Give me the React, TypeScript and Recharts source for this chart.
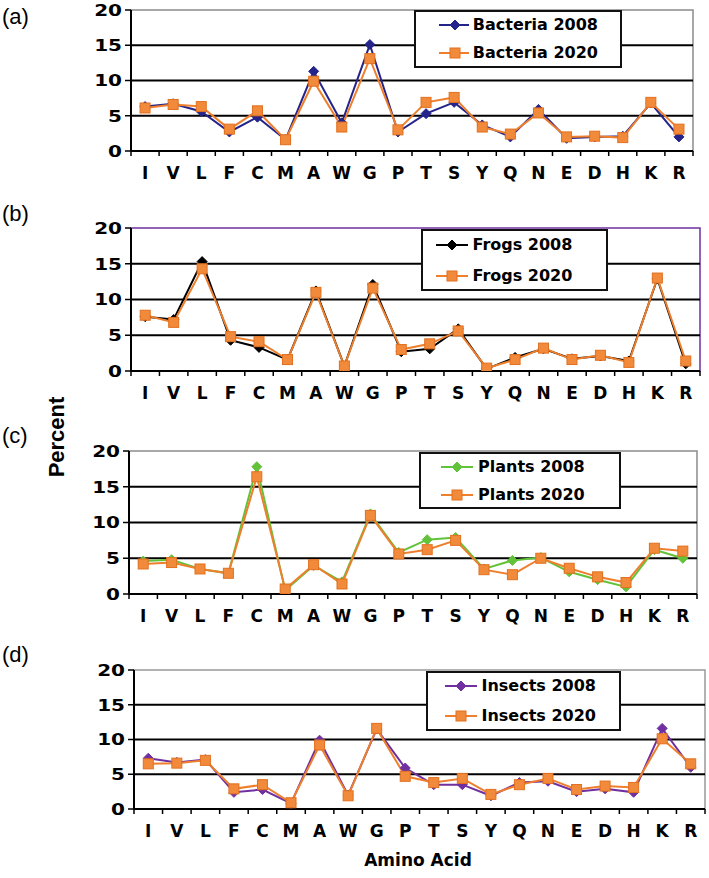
import React from 'react';
import { LineChart, Line, XAxis, YAxis, ReferenceLine, ReferenceArea, Legend } from 'recharts';

const AMINO_ACIDS = ['I', 'V', 'L', 'F', 'C', 'M', 'A', 'W', 'G', 'P', 'T', 'S', 'Y', 'Q', 'N', 'E', 'D', 'H', 'K', 'R'];
const Y_TICKS = [0, 5, 10, 15, 20];

const bacteria2008 = [6.3, 6.7, 5.6, 2.7, 4.8, 1.6, 11.3, 4.0, 15.1, 2.7, 5.3, 6.9, 3.7, 2.0, 5.9, 1.8, 2.0, 2.1, 6.8, 2.0];
const bacteria2020 = [6.1, 6.6, 6.3, 3.1, 5.7, 1.6, 9.9, 3.4, 13.1, 3.0, 6.9, 7.6, 3.4, 2.4, 5.4, 2.0, 2.1, 1.9, 6.9, 3.1];
const frogs2008 = [7.6, 7.2, 15.3, 4.3, 3.3, 1.6, 11.2, 0.7, 12.1, 2.7, 3.1, 5.9, 0.3, 1.9, 3.1, 1.7, 2.1, 1.4, 12.9, 1.0];
const frogs2020 = [7.8, 6.8, 14.3, 4.8, 4.1, 1.6, 11.0, 0.7, 11.6, 3.0, 3.8, 5.6, 0.4, 1.6, 3.2, 1.6, 2.2, 1.2, 13.0, 1.4];
const plants2008 = [4.6, 4.8, 3.5, 2.9, 17.8, 0.5, 4.0, 1.7, 11.2, 5.8, 7.6, 7.9, 3.5, 4.7, 5.1, 3.1, 2.0, 1.0, 6.2, 5.0];
const plants2020 = [4.2, 4.4, 3.5, 2.9, 16.4, 0.7, 4.1, 1.4, 11.0, 5.6, 6.2, 7.5, 3.4, 2.7, 5.0, 3.6, 2.4, 1.6, 6.4, 6.0];
const insects2008 = [7.3, 6.7, 7.1, 2.4, 2.8, 0.8, 9.9, 2.0, 11.5, 5.9, 3.5, 3.5, 1.9, 3.8, 4.0, 2.5, 2.9, 2.4, 11.6, 6.0];
const insects2020 = [6.5, 6.6, 7.0, 2.9, 3.5, 0.9, 9.2, 1.9, 11.6, 4.7, 3.8, 4.4, 2.1, 3.5, 4.4, 2.8, 3.3, 3.1, 10.1, 6.5];

const TICK_FONT = '"DejaVu Sans", Verdana, sans-serif';
const ORANGE_LINE = '#EE7F2D';
const ORANGE_FILL = '#F18A3B';
const ORANGE_EDGE = '#E2701F';

type PanelDef = {
  label: string;
  name2008: string;
  name2020: string;
  v2008: number[];
  v2020: number[];
  color2008: string;
  border: string;
  plot: { left: number; right: number; top: number; bottom: number };
  legend: { x: number; y: number; w: number; h: number; gap: number };
  labelY: number;
};

const PANELS: PanelDef[] = [
  {
    label: '(a)', name2008: 'Bacteria 2008', name2020: 'Bacteria 2020',
    v2008: bacteria2008, v2020: bacteria2020, color2008: '#24248A', border: '#8c8c8c',
    plot: { left: 131, right: 693, top: 10, bottom: 151 },
    legend: { x: 414, y: 10, w: 208, h: 58, gap: 8 }, labelY: 17,
  },
  {
    label: '(b)', name2008: 'Frogs 2008', name2020: 'Frogs 2020',
    v2008: frogs2008, v2020: frogs2020, color2008: '#000000', border: '#7030A0',
    plot: { left: 131, right: 700, top: 228, bottom: 371 },
    legend: { x: 421, y: 229, w: 187, h: 62, gap: 11 }, labelY: 214,
  },
  {
    label: '(c)', name2008: 'Plants 2008', name2020: 'Plants 2020',
    v2008: plants2008, v2020: plants2020, color2008: '#62C23A', border: '#8c8c8c',
    plot: { left: 129, right: 697, top: 451, bottom: 594 },
    legend: { x: 419, y: 452, w: 202, h: 57, gap: 8 }, labelY: 436,
  },
  {
    label: '(d)', name2008: 'Insects 2008', name2020: 'Insects 2020',
    v2008: insects2008, v2020: insects2020, color2008: '#7030A0', border: '#999999',
    plot: { left: 134, right: 705, top: 670, bottom: 809 },
    legend: { x: 426, y: 671, w: 195, h: 60, gap: 10 }, labelY: 655,
  },
];

const Y_AXIS_W = 60;
const X_AXIS_H = 40;
const TICK_SIZE = 5;
const TICK_MARGIN = 17;

function Diamond({ cx, cy, color, r = 5 }: { cx: number; cy: number; color: string; r?: number }) {
  return (
    <polygon
      points={`${cx},${cy - r} ${cx + r},${cy} ${cx},${cy + r} ${cx - r},${cy}`}
      fill={color}
      stroke={color}
      strokeWidth={1}
    />
  );
}

function Square({ cx, cy, s = 10 }: { cx: number; cy: number; s?: number }) {
  return (
    <rect x={cx - s / 2} y={cy - s / 2} width={s} height={s} fill={ORANGE_FILL} stroke={ORANGE_EDGE} strokeWidth={1} />
  );
}

function makeXTick(half: number) {
  return function XTick(props: any) {
    const { x, y, payload, index, visibleTicksCount } = props;
    const axisY = y - TICK_SIZE - TICK_MARGIN;
    const idx = typeof index === 'number' ? index : payload?.index ?? 0;
    const count = visibleTicksCount ?? AMINO_ACIDS.length;
    return (
      <g>
        <line x1={x - half} x2={x - half} y1={axisY} y2={axisY + TICK_SIZE} stroke="#000" strokeWidth={1.5} />
        {idx === count - 1 && (
          <line x1={x + half} x2={x + half} y1={axisY} y2={axisY + TICK_SIZE} stroke="#000" strokeWidth={1.5} />
        )}
        <text
          x={x}
          y={y}
          dy="0.36em"
          textAnchor="middle"
          fontFamily={TICK_FONT}
          fontWeight="bold"
          fontSize={17}
          fill="#000"
        >
          {payload.value}
        </text>
      </g>
    );
  };
}

function YTick(props: any) {
  const { x, y, payload } = props;
  return (
    <text
      x={x}
      y={y}
      dy="0.36em"
      textAnchor="end"
      fontFamily={TICK_FONT}
      fontWeight="bold"
      fontSize={16}
      fill="#000"
      transform={`translate(${x} 0) scale(1.25 1) translate(${-x} 0)`}
    >
      {payload.value}
    </text>
  );
}

function makeLegend(def: PanelDef) {
  return function LegendBox(props: any) {
    const payload = props.payload || [];
    return (
      <div
        style={{
          width: def.legend.w,
          height: def.legend.h,
          boxSizing: 'border-box',
          border: '2px solid #111',
          background: '#fff',
          display: 'flex',
          flexDirection: 'column',
          justifyContent: 'center',
          alignItems: 'center',
          gap: def.legend.gap,
        }}
      >
        {payload.map((entry: any, i: number) => (
          <div key={`leg-${i}`} style={{ display: 'flex', alignItems: 'center', width: 160, height: 20 }}>
            <svg width={34} height={14} style={{ marginRight: 4 }}>
              <line x1={1} x2={33} y1={7} y2={7} stroke={entry.color} strokeWidth={2} />
              {i === 0 ? <Diamond cx={17} cy={7} color={entry.color} r={5} /> : <Square cx={17} cy={7} s={10} />}
            </svg>
            <span
              style={{
                fontFamily: TICK_FONT,
                fontWeight: 'bold',
                fontSize: 16,
                color: '#000',
                whiteSpace: 'nowrap',
                lineHeight: '20px',
              }}
            >
              {entry.value}
            </span>
          </div>
        ))}
      </div>
    );
  };
}

function Panel({ def }: { def: PanelDef }) {
  const data = AMINO_ACIDS.map((aa, i) => ({ aa, y2008: def.v2008[i], y2020: def.v2020[i] }));
  const chartTop = def.plot.top - 10;
  const height = def.plot.bottom - def.plot.top + 10 + X_AXIS_H + 4;
  const half = (def.plot.right - def.plot.left) / AMINO_ACIDS.length / 2;
  const margin = {
    top: def.plot.top - chartTop,
    left: def.plot.left - Y_AXIS_W,
    right: 709 - def.plot.right,
    bottom: height - (def.plot.bottom - chartTop) - X_AXIS_H,
  };
  const XTick = makeXTick(half);
  const LegendBox = makeLegend(def);
  return (
    <div style={{ position: 'absolute', left: 0, top: chartTop, width: 709, height }}>
      <LineChart width={709} height={height} data={data} margin={margin}>
        <ReferenceArea y1={0} y2={20} fill="none" stroke={def.border} strokeWidth={1.5} ifOverflow="visible" />
        {[5, 10, 15].map((v) => (
          <ReferenceLine key={`g-${v}`} y={v} stroke="#000" strokeWidth={2} />
        ))}
        <XAxis
          dataKey="aa"
          scale="band"
          interval={0}
          height={X_AXIS_H}
          tickLine={false}
          tickSize={TICK_SIZE}
          tickMargin={TICK_MARGIN}
          axisLine={{ stroke: '#000', strokeWidth: 2 }}
          tick={<XTick />}
        />
        <YAxis
          domain={[0, 20]}
          ticks={Y_TICKS}
          width={Y_AXIS_W}
          allowDataOverflow
          interval={0}
          tickSize={6}
          tickMargin={3}
          tickLine={{ stroke: '#000', strokeWidth: 1.5 }}
          axisLine={{ stroke: '#000', strokeWidth: 2 }}
          tick={<YTick />}
        />
        <Legend
          layout="vertical"
          align="center"
          verticalAlign="middle"
          content={<LegendBox />}
          wrapperStyle={{ position: 'absolute', left: def.legend.x, top: def.legend.y - chartTop, width: def.legend.w, height: def.legend.h }}
        />
        <Line
          dataKey="y2008"
          name={def.name2008}
          stroke={def.color2008}
          strokeWidth={2}
          isAnimationActive={false}
          dot={(p: any) => <Diamond key={`d8-${p.index}`} cx={p.cx} cy={p.cy} color={def.color2008} r={5} />}
          activeDot={false}
        />
        <Line
          dataKey="y2020"
          name={def.name2020}
          stroke={ORANGE_LINE}
          strokeWidth={2}
          isAnimationActive={false}
          dot={(p: any) => <Square key={`d20-${p.index}`} cx={p.cx} cy={p.cy} s={10} />}
          activeDot={false}
        />
      </LineChart>
    </div>
  );
}

export default function App() {
  return (
    <div style={{ position: 'absolute', left: 0, top: 0, width: 709, height: 878, background: '#fff', overflow: 'hidden' }}>
      {PANELS.map((def) => (
        <React.Fragment key={def.label}>
          <Panel def={def} />
          <div
            style={{
              position: 'absolute',
              left: 2,
              top: def.labelY - 13,
              fontFamily: '"Liberation Sans", Arial, sans-serif',
              fontSize: 22,
              lineHeight: '26px',
              color: '#000',
            }}
          >
            {def.label}
          </div>
        </React.Fragment>
      ))}
      <div
        style={{
          position: 'absolute',
          left: 57,
          top: 437,
          transform: 'translate(-50%, -50%) rotate(-90deg)',
          fontFamily: '"Liberation Sans Narrow", "Liberation Sans", Arial, sans-serif',
          fontWeight: 'bold',
          fontSize: 22,
          whiteSpace: 'nowrap',
          color: '#000',
        }}
      >
        Percent
      </div>
      <div
        style={{
          position: 'absolute',
          left: 418,
          top: 860,
          transform: 'translate(-50%, -50%)',
          fontFamily: TICK_FONT,
          fontWeight: 'bold',
          fontSize: 17,
          whiteSpace: 'nowrap',
          color: '#000',
        }}
      >
        Amino Acid
      </div>
    </div>
  );
}
